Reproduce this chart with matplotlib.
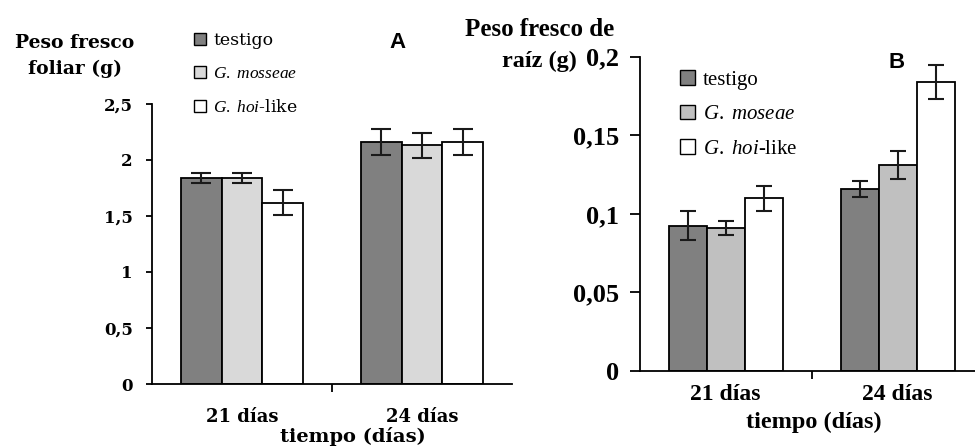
import matplotlib
matplotlib.use('Agg')
import matplotlib.pyplot as plt
from matplotlib.patches import Patch

days = ['21 días', '24 días']

# panel A - peso fresco foliar (g)
foliar_testigo = [1.84, 2.16]
foliar_mosseae = [1.84, 2.13]
foliar_hoi = [1.62, 2.16]
foliar_testigo_err = [0.045, 0.12]
foliar_mosseae_err = [0.045, 0.11]
foliar_hoi_err = [0.11, 0.12]
foliar_ticks = [0, 0.5, 1, 1.5, 2, 2.5]
foliar_ticklabels = ['0', '0,5', '1', '1,5', '2', '2,5']
foliar_names = ['testigo', r'$\it{G.\ mosseae}$', r'$\it{G.\ hoi}$-like']

# panel B - peso fresco de raiz (g)
raiz_testigo = [0.0925, 0.116]
raiz_mosseae = [0.091, 0.131]
raiz_hoi = [0.110, 0.184]
raiz_testigo_err = [0.009, 0.005]
raiz_mosseae_err = [0.0047, 0.0087]
raiz_hoi_err = [0.008, 0.0107]
raiz_ticks = [0, 0.05, 0.1, 0.15, 0.2]
raiz_ticklabels = ['0', '0,05', '0,1', '0,15', '0,2']
raiz_names = ['testigo', r'$\it{G.\ moseae}$', r'$\it{G.\ hoi}$-like']

WIDE = 'DejaVu Serif'
TIMES = 'Liberation Serif'
DARK = '#808080'

plt.rcParams['mathtext.fontset'] = 'custom'


def panel(ax, vals, errs, colors, w, ylim, ticks, ticklabels, capsize,
          yfont, ysize, ylen, ypad, xfont, xsize, xpad):
    x = [0, 1]
    for k, (v, e, c) in enumerate(zip(vals, errs, colors)):
        pos = [i + (k - 1) * w for i in x]
        ax.bar(pos, v, width=w, color=c, edgecolor='black', linewidth=1.3, zorder=2)
        ax.errorbar(pos, v, yerr=e, fmt='none', ecolor='#1a1a1a', elinewidth=1.5,
                    capsize=capsize, capthick=1.5, zorder=3)
    ax.set_xlim(-0.5, 1.5)
    ax.set_ylim(*ylim)
    ax.spines['top'].set_visible(False)
    ax.spines['right'].set_visible(False)
    ax.spines['left'].set_linewidth(1.3)
    ax.spines['bottom'].set_linewidth(1.3)
    ax.set_yticks(ticks)
    ax.set_yticklabels(ticklabels, fontfamily=yfont, fontweight='bold', fontsize=ysize)
    ax.tick_params(axis='y', length=ylen, width=1.3, pad=ypad)
    ax.set_xticks(x)
    ax.set_xticklabels(days, fontfamily=xfont, fontweight='bold', fontsize=xsize)
    ax.tick_params(axis='x', which='major', length=0, pad=xpad)
    ax.set_xticks([0.5], minor=True)
    ax.tick_params(axis='x', which='minor', length=6, width=1.3)


fig = plt.figure(figsize=(9.75, 4.46), dpi=100)

axA = fig.add_axes([0.156, 0.139, 0.369, 0.628])
panel(axA, [foliar_testigo, foliar_mosseae, foliar_hoi],
      [foliar_testigo_err, foliar_mosseae_err, foliar_hoi_err],
      [DARK, '#d9d9d9', 'white'], 0.226, (0, 2.5), foliar_ticks, foliar_ticklabels, 7,
      WIDE, 12, 4, 10, WIDE, 13, 17)

axB = fig.add_axes([0.656, 0.168, 0.353, 0.705])
panel(axB, [raiz_testigo, raiz_mosseae, raiz_hoi],
      [raiz_testigo_err, raiz_mosseae_err, raiz_hoi_err],
      [DARK, '#c0c0c0', 'white'], 0.221, (0, 0.2), raiz_ticks, raiz_ticklabels, 6,
      TIMES, 19, 7, 8, TIMES, 17, 9)

# labels
fig.text(75 / 975, 1 - 56 / 446, 'Peso fresco\nfoliar (g)', ha='center', va='center',
         fontfamily=WIDE, fontweight='bold', fontsize=13.5, linespacing=1.6)
fig.text(540 / 975, 1 - 29 / 446, 'Peso fresco de', ha='center', va='center',
         fontfamily=TIMES, fontweight='bold', fontsize=18)
fig.text(577 / 975, 1 - 61 / 446, 'raíz (g)', ha='right', va='center',
         fontfamily=TIMES, fontweight='bold', fontsize=17.5)
fig.text(353 / 975, 1 - 436 / 446, 'tiempo (días)', ha='center', va='center',
         fontfamily=WIDE, fontweight='bold', fontsize=14)
fig.text(814 / 975, 1 - 422 / 446, 'tiempo (días)', ha='center', va='center',
         fontfamily=TIMES, fontweight='bold', fontsize=17.5)
fig.text(398 / 975, 1 - 42 / 446, 'A', ha='center', va='center',
         fontfamily='Liberation Sans', fontweight='bold', fontsize=16)
fig.text(897 / 975, 1 - 63 / 446, 'B', ha='center', va='center',
         fontfamily='Liberation Sans', fontweight='bold', fontsize=16)


def legend(anchor, mid, names, font, size, spacing):
    plt.rcParams['mathtext.it'] = font + ':italic'
    plt.rcParams['mathtext.rm'] = font
    handles = [Patch(facecolor=DARK, edgecolor='black'),
               Patch(facecolor=mid, edgecolor='black'),
               Patch(facecolor='white', edgecolor='black')]
    fig.legend(handles, names, loc='upper left', bbox_to_anchor=anchor, frameon=False,
               handlelength=0.7, handleheight=0.7, handletextpad=0.4, labelspacing=spacing,
               prop={'family': font, 'size': size}, borderaxespad=0, borderpad=0)


legend((194 / 975, 1 - 32 / 446), '#d9d9d9', foliar_names, WIDE, 12.5, 0.95)
legend((680 / 975, 1 - 70 / 446), '#c0c0c0', raiz_names, TIMES, 15, 0.72)

fig.savefig('out.png', dpi=100)
